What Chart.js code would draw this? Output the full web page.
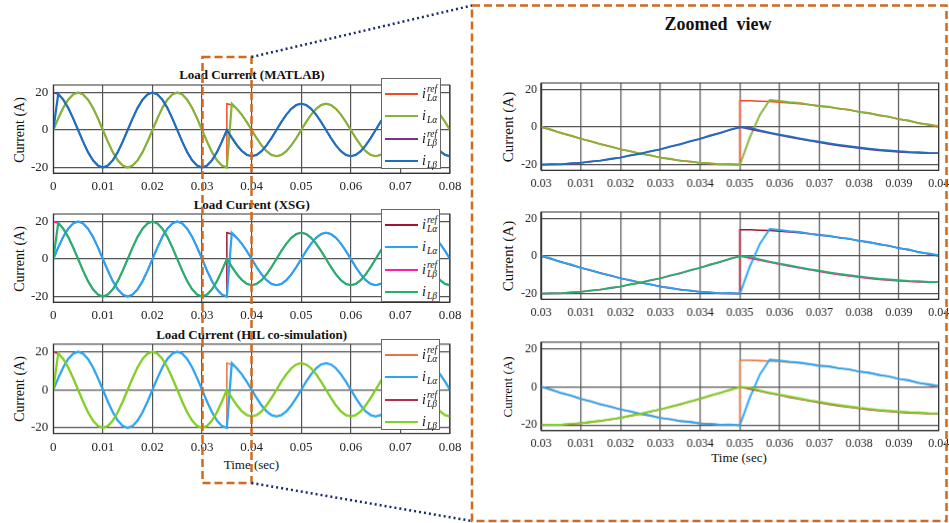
<!DOCTYPE html>
<html>
<head>
<meta charset="utf-8">
<script src="https://cdn.jsdelivr.net/npm/chart.js@4.4.1/dist/chart.umd.min.js"></script>
<style>
  body { margin: 0; background: #fff; overflow: hidden; width: 949px; height: 523px; position: relative; font-family: "Liberation Serif", "Times New Roman", serif; color: #111; }
  .txt { position: absolute; white-space: nowrap; text-align: center; }
  .ttl { font-weight: bold; font-size: 13px; line-height: 16px; }
  .ylab { font-size: 14px; line-height: 16px; width: 100px; height: 16px; transform: rotate(-90deg); }
  .leg { position: absolute; background: #fff; border: 1px solid #666; box-sizing: border-box; z-index: 3; }
  .row { position: absolute; left: 3px; height: 20px; display: flex; align-items: center; }
  .ln { display: inline-block; width: 33px; height: 2px; margin-right: 4px; }
  .sym { font-style: italic; font-size: 14px; display: inline-flex; align-items: center; }
  .st { display: inline-flex; flex-direction: column; font-size: 9.5px; line-height: 9px; margin-left: 1px; }
</style>
</head>
<body>

<script>
// tick positions and labels
const leftTicks = [0, 0.01, 0.02, 0.03, 0.04, 0.05, 0.06, 0.07, 0.08];
const leftTickLabels = ['0', '0.01', '0.02', '0.03', '0.04', '0.05', '0.06', '0.07', '0.08'];
const zoomTicks = [0.03, 0.031, 0.032, 0.033, 0.034, 0.035, 0.036, 0.037, 0.038, 0.039, 0.04];
const zoomTickLabels = ['0.03', '0.031', '0.032', '0.033', '0.034', '0.035', '0.036', '0.037', '0.038', '0.039', '0.04'];
const currentTicks = [-20, 0, 20];

// full run 0..0.08 s (time repeated at the two steps of the reference)
const timeL = [0, 0, 0.001, 0.002, 0.003, 0.004, 0.005, 0.006, 0.007, 0.008, 0.009,
  0.010, 0.011, 0.012, 0.013, 0.014, 0.015, 0.016, 0.017, 0.018, 0.019,
  0.020, 0.021, 0.022, 0.023, 0.024, 0.025, 0.026, 0.027, 0.028, 0.029,
  0.030, 0.031, 0.032, 0.033, 0.034, 0.035, 0.035, 0.036, 0.037, 0.038, 0.039,
  0.040, 0.041, 0.042, 0.043, 0.044, 0.045, 0.046, 0.047, 0.048, 0.049,
  0.050, 0.051, 0.052, 0.053, 0.054, 0.055, 0.056, 0.057, 0.058, 0.059,
  0.060, 0.061, 0.062, 0.063, 0.064, 0.065, 0.066, 0.067, 0.068, 0.069,
  0.070, 0.071, 0.072, 0.073, 0.074, 0.075, 0.076, 0.077, 0.078, 0.079, 0.080];

const refAlphaL = [0, 0, 6.2, 11.8, 16.2, 19.0, 20, 19.0, 16.2, 11.8, 6.2,
  0, -6.2, -11.8, -16.2, -19.0, -20, -19.0, -16.2, -11.8, -6.2,
  0, 6.2, 11.8, 16.2, 19.0, 20, 19.0, 16.2, 11.8, 6.2,
  0, -6.2, -11.8, -16.2, -19.0, -20, 14, 13.3, 11.3, 8.2, 4.3,
  0, -4.3, -8.2, -11.3, -13.3, -14, -13.3, -11.3, -8.2, -4.3,
  0, 4.3, 8.2, 11.3, 13.3, 14, 13.3, 11.3, 8.2, 4.3,
  0, -4.3, -8.2, -11.3, -13.3, -14, -13.3, -11.3, -8.2, -4.3,
  0, 4.3, 8.2, 11.3, 13.3, 14, 13.3, 11.3, 8.2, 4.3, 0];

const measAlphaL = [0, 0, 6.2, 11.8, 16.2, 19.0, 20, 19.0, 16.2, 11.8, 6.2,
  0, -6.2, -11.8, -16.2, -19.0, -20, -19.0, -16.2, -11.8, -6.2,
  0, 6.2, 11.8, 16.2, 19.0, 20, 19.0, 16.2, 11.8, 6.2,
  0, -6.2, -11.8, -16.2, -19.0, -20, -20, 14.0, 11.3, 8.2, 4.3,
  0, -4.3, -8.2, -11.3, -13.3, -14, -13.3, -11.3, -8.2, -4.3,
  0, 4.3, 8.2, 11.3, 13.3, 14, 13.3, 11.3, 8.2, 4.3,
  0, -4.3, -8.2, -11.3, -13.3, -14, -13.3, -11.3, -8.2, -4.3,
  0, 4.3, 8.2, 11.3, 13.3, 14, 13.3, 11.3, 8.2, 4.3, 0];

const refBetaL = [0, 20, 19.0, 16.2, 11.8, 6.2, 0, -6.2, -11.8, -16.2, -19.0,
  -20, -19.0, -16.2, -11.8, -6.2, 0, 6.2, 11.8, 16.2, 19.0,
  20, 19.0, 16.2, 11.8, 6.2, 0, -6.2, -11.8, -16.2, -19.0,
  -20, -19.0, -16.2, -11.8, -6.2, 0, 0, -4.3, -8.2, -11.3, -13.3,
  -14, -13.3, -11.3, -8.2, -4.3, 0, 4.3, 8.2, 11.3, 13.3,
  14, 13.3, 11.3, 8.2, 4.3, 0, -4.3, -8.2, -11.3, -13.3,
  -14, -13.3, -11.3, -8.2, -4.3, 0, 4.3, 8.2, 11.3, 13.3,
  14, 13.3, 11.3, 8.2, 4.3, 0, -4.3, -8.2, -11.3, -13.3, -14];

const measBetaL = [0, 0, 19.3, 16.2, 11.8, 6.2, 0, -6.2, -11.8, -16.2, -19.0,
  -20, -19.0, -16.2, -11.8, -6.2, 0, 6.2, 11.8, 16.2, 19.0,
  20, 19.0, 16.2, 11.8, 6.2, 0, -6.2, -11.8, -16.2, -19.0,
  -20, -19.0, -16.2, -11.8, -6.2, 0, 0, -4.1, -8.0, -11.1, -13.2,
  -14, -13.3, -11.3, -8.2, -4.3, 0, 4.3, 8.2, 11.3, 13.3,
  14, 13.3, 11.3, 8.2, 4.3, 0, -4.3, -8.2, -11.3, -13.3,
  -14, -13.3, -11.3, -8.2, -4.3, 0, 4.3, 8.2, 11.3, 13.3,
  14, 13.3, 11.3, 8.2, 4.3, 0, -4.3, -8.2, -11.3, -13.3, -14];

// zoomed window 0.03..0.04 s
const timeZ = [0.03, 0.03025, 0.0305, 0.03075, 0.031, 0.03125, 0.0315, 0.03175,
  0.032, 0.03225, 0.0325, 0.03275, 0.033, 0.03325, 0.0335, 0.03375,
  0.034, 0.03425, 0.0345, 0.03475, 0.035, 0.035, 0.03525, 0.0355, 0.03575,
  0.036, 0.03625, 0.0365, 0.03675, 0.037, 0.03725, 0.0375, 0.03775,
  0.038, 0.03825, 0.0385, 0.03875, 0.039, 0.03925, 0.0395, 0.03975, 0.04];

const refAlphaZ = [0, -1.6, -3.1, -4.7, -6.2, -7.7, -9.1, -10.5, -11.8, -13.0, -14.1,
  -15.2, -16.2, -17.1, -17.8, -18.5, -19.0, -19.5, -19.8, -19.9, -20,
  14, 14.0, 13.8, 13.6, 13.3, 12.9, 12.5, 11.9, 11.3, 10.6,
  9.9, 9.1, 8.2, 7.3, 6.4, 5.4, 4.3, 3.3, 2.2, 1.1, 0];

const measAlphaZ = [0.2, -1.3, -3.2, -4.5, -6.3, -7.5, -9.2, -10.3, -11.9, -12.8, -14.3,
  -15.0, -16.4, -16.9, -18.0, -18.3, -19.2, -19.3, -19.9, -19.7, -20.1,
  -20.1, -5.5, 6.5, 14.4, 13.9, 13.2, 12.8, 12.0, 11.1, 10.8,
  9.7, 9.3, 8.0, 7.5, 6.2, 5.6, 4.1, 3.5, 2.0, 1.4, 0.5];

const refBetaZ = [-20, -19.9, -19.8, -19.5, -19.0, -18.5, -17.8, -17.1, -16.2, -15.2, -14.1,
  -13.0, -11.8, -10.5, -9.1, -7.7, -6.2, -4.7, -3.1, -1.6, 0,
  0, -1.1, -2.2, -3.3, -4.3, -5.4, -6.4, -7.3, -8.2, -9.1,
  -9.9, -10.6, -11.3, -11.9, -12.5, -12.9, -13.3, -13.6, -13.8, -14.0, -14];

const measBetaZ = [-20.1, -19.8, -19.9, -19.3, -19.1, -18.3, -17.9, -16.9, -16.3, -15.0, -14.2,
  -12.8, -11.9, -10.3, -9.2, -7.5, -6.3, -4.5, -3.2, -1.4, -0.2,
  0, -0.3, -1.8, -3.0, -4.0, -5.0, -6.0, -7.0, -7.8, -8.7,
  -9.5, -10.2, -10.9, -11.5, -12.1, -12.5, -12.9, -13.3, -13.4, -13.8, -13.9];

// line colours: ref alpha, i alpha, ref beta, i beta
const colorsMatlab = ['#f24a23', '#86b43a', '#7e2f8e', '#1f6fbf'];
const colorsXsg = ['#a2142f', '#2aa3f7', '#ff1fa0', '#26b06e'];
const colorsHil = ['#e8733f', '#2aa6f5', '#b2304d', '#7ed321'];

Chart.defaults.font.family = '"Liberation Serif", "Times New Roman", serif';
Chart.defaults.color = '#222';

const frame = {
  id: 'frame',
  afterDraw(c) {
    const a = c.chartArea, g = c.ctx;
    g.save();
    g.strokeStyle = '#333';
    g.lineWidth = 1;
    g.strokeRect(a.left, a.top, a.right - a.left, a.bottom - a.top);
    g.restore();
  }
};

function pts(t, v) {
  return t.map((x, i) => ({x: x, y: v[i]}));
}

function addPlot(p) {
  const padT = 15, padR = 22, xH = 22;
  const left = p.x0 - p.yW;
  const div = document.createElement('div');
  div.style.cssText = 'position:absolute;left:' + left + 'px;top:' + (p.y0 - padT) + 'px;width:' +
    (p.x1 - left + padR) + 'px;height:' + (p.y1 - p.y0 + padT + xH) + 'px;z-index:1';
  const cv = document.createElement('canvas');
  div.appendChild(cv);
  document.body.appendChild(div);

  const wid = p.zoom ? [1.6, 1.9, 1.6, 1.9] : [1.5, 2.2, 1.5, 2.2];
  const sets = [
    pts(p.t, p.zoom ? refAlphaZ : refAlphaL),
    pts(p.t, p.zoom ? measAlphaZ : measAlphaL),
    pts(p.t, p.zoom ? refBetaZ : refBetaL),
    pts(p.t, p.zoom ? measBetaZ : measBetaL)
  ];
  const gridCol = '#555555';

  new Chart(cv, {
    type: 'line',
    data: {
      datasets: sets.map((d, i) => ({
        data: d,
        borderColor: p.colors[i],
        borderWidth: wid[i],
        pointRadius: 0,
        fill: false,
        tension: 0,
        order: 4 - i
      }))
    },
    options: {
      responsive: true,
      maintainAspectRatio: false,
      animation: false,
      layout: {padding: {left: 0, top: padT, right: padR, bottom: 0}},
      plugins: {legend: {display: false}, tooltip: {enabled: false}},
      scales: {
        x: {
          type: 'linear',
          min: p.xt[0],
          max: p.xt[p.xt.length - 1],
          afterBuildTicks: ax => { ax.ticks = p.xt.map(v => ({value: v})); },
          afterFit: ax => { ax.height = xH; },
          ticks: {
            callback: (v, i) => p.xl[i],
            padding: 6,
            maxRotation: 0,
            autoSkip: false,
            font: {size: p.fs},
            color: '#222'
          },
          grid: {color: gridCol, lineWidth: 1.2, drawTicks: false},
          border: {color: '#333'}
        },
        y: {
          min: -23,
          max: p.zoom ? 23.5 : 24,
          afterBuildTicks: ax => { ax.ticks = currentTicks.map(v => ({value: v})); },
          afterFit: ax => { ax.width = p.yW; },
          ticks: {padding: p.zoom ? 4 : 5, font: {size: p.fs}, color: '#222'},
          grid: {color: gridCol, lineWidth: 1.2, drawTicks: false},
          border: {color: '#333'}
        }
      }
    },
    plugins: [frame]
  });
}

function addText(cls, text, cx, cy, extra) {
  const d = document.createElement('div');
  d.className = 'txt ' + cls;
  d.textContent = text;
  if (extra) d.style.cssText = extra;
  document.body.appendChild(d);
  const w = d.offsetWidth, h = d.offsetHeight;
  d.style.left = (cx - w / 2) + 'px';
  d.style.top = (cy - h / 2) + 'px';
  return d;
}

function addLegend(x, y, w, h, colors) {
  const box = document.createElement('div');
  box.className = 'leg';
  box.style.left = x + 'px';
  box.style.top = y + 'px';
  box.style.width = w + 'px';
  box.style.height = h + 'px';
  const subs = ['Lα', 'Lα', 'Lβ', 'Lβ'];
  const sups = ['ref', '\u00a0', 'ref', '\u00a0'];
  for (let i = 0; i < 4; i++) {
    const r = document.createElement('div');
    r.className = 'row';
    r.style.top = (4.5 + 22.6 * i) + 'px';
    r.innerHTML = '<span class="ln" style="background:' + colors[i] + '"></span>' +
      '<span class="sym">i<span class="st"><span>' + sups[i] + '</span><span>' + subs[i] + '</span></span></span>';
    box.appendChild(r);
  }
  document.body.appendChild(box);
}

// left column
addPlot({x0: 53.3, x1: 450, y0: 84.8, y1: 172.9, yW: 53.3, t: timeL, xt: leftTicks, xl: leftTickLabels, fs: 13, colors: colorsMatlab});
addPlot({x0: 53.3, x1: 450, y0: 213.5, y1: 301.6, yW: 53.3, t: timeL, xt: leftTicks, xl: leftTickLabels, fs: 13, colors: colorsXsg});
addPlot({x0: 53.3, x1: 450, y0: 344.2, y1: 432.9, yW: 53.3, t: timeL, xt: leftTicks, xl: leftTickLabels, fs: 13, colors: colorsHil});

// zoomed column
addPlot({x0: 541, x1: 937.7, y0: 82.7, y1: 169.9, yW: 61, t: timeZ, xt: zoomTicks, xl: zoomTickLabels, fs: 12, colors: colorsMatlab, zoom: true});
addPlot({x0: 541, x1: 937.7, y0: 211.7, y1: 298.9, yW: 61, t: timeZ, xt: zoomTicks, xl: zoomTickLabels, fs: 12, colors: colorsXsg, zoom: true});
addPlot({x0: 541, x1: 937.7, y0: 342.4, y1: 430.3, yW: 61, t: timeZ, xt: zoomTicks, xl: zoomTickLabels, fs: 12, colors: colorsHil, zoom: true});

addLegend(381, 78, 60, 91, colorsMatlab);
addLegend(381, 209, 59, 93, colorsXsg);
addLegend(381, 339, 59, 91, colorsHil);

addText('ttl', 'Load Current (MATLAB)', 251.7, 75);
addText('ttl', 'Load Current (XSG)', 251.7, 205);
addText('ttl', 'Load Current (HIL co-simulation)', 251.7, 335);
addText('', 'Time (sec)', 251.7, 465, 'font-size:13px;line-height:16px;');
addText('', 'Time (sec)', 739.3, 458, 'font-size:13px;line-height:16px;');
addText('ttl', 'Zoomed  view', 718, 24, 'font-size:18px;line-height:22px;white-space:pre;');

[[20, 130, 14], [20, 259, 14], [20, 389, 14], [508, 126.7, 15], [508, 255.7, 15], [508, 386.7, 13]].forEach(c => {
  const d = document.createElement('div');
  d.className = 'txt ylab';
  d.textContent = 'Current (A)';
  d.style.fontSize = c[2] + 'px';
  d.style.left = (c[0] - 50) + 'px';
  d.style.top = (c[1] - 8) + 'px';
  document.body.appendChild(d);
});
</script>

<svg width="949" height="523" style="position:absolute;left:0;top:0;z-index:5;pointer-events:none">
  <rect x="202.5" y="57" width="49" height="426" fill="none" stroke="#d2691e" stroke-width="2.5" stroke-dasharray="8 4"/>
  <rect x="472" y="5.5" width="474.5" height="515.5" fill="none" stroke="#d2691e" stroke-width="2.5" stroke-dasharray="8 4"/>
  <line x1="251.5" y1="57" x2="472" y2="5.5" stroke="#1b2a6b" stroke-width="2.5" stroke-dasharray="2 3"/>
  <line x1="251.5" y1="483" x2="472" y2="521" stroke="#1b2a6b" stroke-width="2.5" stroke-dasharray="2 3"/>
</svg>
</body>
</html>
